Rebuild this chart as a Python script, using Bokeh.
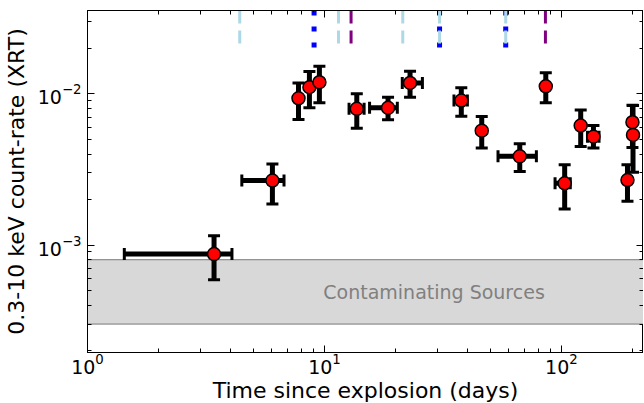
import math
from bokeh.plotting import figure
from bokeh.models import FixedTicker, LogAxis, BoxAnnotation, Span, Label, ColumnDataSource
from bokeh.embed import file_html
from bokeh.resources import INLINE

# ---------------- data ----------------
t = [3.42, 6.03, 7.77, 8.64, 9.52, 13.69, 18.55, 22.97, 37.8, 46.1, 66.7, 85.9,
     103.2, 120.6, 136.5, 190.0, 199.4, 200.5]
t_lo = [1.43, 4.48, 7.77, 8.64, 9.52, 12.7, 15.5, 21.3, 35.2, 46.1, 54.0, 85.9,
        94.0, 120.6, 128.8, 190.0, 199.4, 200.5]
t_hi = [4.07, 6.75, 7.77, 8.64, 9.52, 14.7, 20.3, 25.9, 40.1, 46.1, 78.4, 85.9,
        109.0, 120.6, 144.1, 190.0, 199.4, 200.5]
rate = [8.71e-4, 2.67e-3, 9.35e-3, 1.106e-2, 1.194e-2, 7.96e-3, 8.08e-3, 1.18e-2,
        9.03e-3, 5.71e-3, 3.86e-3, 1.122e-2, 2.56e-3, 6.17e-3, 5.21e-3, 2.69e-3,
        6.49e-3, 5.35e-3]
rate_lo = [5.89e-4, 1.87e-3, 6.76e-3, 8.08e-3, 8.72e-3, 5.92e-3, 6.73e-3, 9.5e-3,
           7.11e-3, 4.39e-3, 3.06e-3, 8.72e-3, 1.73e-3, 4.48e-3, 4.39e-3, 1.95e-3,
           4.41e-3, 3.03e-3]
rate_hi = [1.153e-3, 3.44e-3, 1.18e-2, 1.406e-2, 1.52e-2, 1.0e-2, 9.5e-3, 1.41e-2,
           1.096e-2, 7.08e-3, 4.67e-3, 1.377e-2, 3.39e-3, 7.83e-3, 6.17e-3, 3.39e-3,
           8.4e-3, 8.37e-3]

blue_times = [9.04, 30.6, 58.2]
lightblue_times = [4.39, 11.46, 21.4, 30.6, 58.2]
purple_times = [12.95, 85.6]

band_lo = 3.0e-4
band_hi = 8.0e-4
band_label = "Contaminating Sources"
band_label_x = 29.0
band_label_y = 4.9e-4

x_start, x_end = 1.0, 222.0
y_start, y_end = 1.945e-4, 3.56e-2

x_major = [1, 10, 100]
x_minor = [2, 3, 4, 5, 6, 7, 8, 9, 20, 30, 40, 50, 60, 70, 80, 90, 200]
y_major = [1e-3, 1e-2]
y_minor = [2e-4, 3e-4, 4e-4, 5e-4, 6e-4, 7e-4, 8e-4, 9e-4,
           2e-3, 3e-3, 4e-3, 5e-3, 6e-3, 7e-3, 8e-3, 9e-3, 2e-2, 3e-2]

x_title = "Time since explosion (days)"
y_title = "0.3-10 keV count-rate (XRT)"

FONT = "DejaVu Sans"

# ---------------- figure ----------------
p = figure(x_axis_type="log", y_axis_type="log",
           x_range=(x_start, x_end), y_range=(y_start, y_end),
           frame_width=556, frame_height=342,
           min_border_left=86, min_border_top=10, min_border_right=0,
           min_border_bottom=0,
           output_backend="svg", toolbar_location=None)
p.xgrid.visible = False
p.ygrid.visible = False
p.outline_line_color = "black"
p.outline_line_width = 1
p.background_fill_color = "white"
p.border_fill_color = "white"

xt = FixedTicker(ticks=x_major, minor_ticks=x_minor)
yt = FixedTicker(ticks=y_major, minor_ticks=y_minor)

def style_axis(ax):
    ax.axis_line_color = "black"
    ax.axis_line_width = 1
    ax.major_tick_in = 7
    ax.major_tick_out = 0
    ax.minor_tick_in = 4
    ax.minor_tick_out = 0
    ax.major_tick_line_color = "black"
    ax.minor_tick_line_color = "black"
    ax.major_tick_line_width = 1
    ax.minor_tick_line_width = 1
    ax.major_label_text_font = FONT
    ax.major_label_text_font_size = "19px"
    ax.major_label_text_color = "black"
    ax.axis_label_text_font = FONT
    ax.axis_label_text_font_size = "22px"
    ax.axis_label_text_font_style = "normal"
    ax.axis_label_text_color = "black"

p.xaxis.ticker = xt
p.yaxis.ticker = yt
for ax in p.xaxis + p.yaxis:
    style_axis(ax)
p.xaxis.axis_label = x_title
p.yaxis.axis_label = y_title
p.xaxis.major_label_standoff = 0
p.yaxis.major_label_standoff = 6
p.xaxis.axis_label_standoff = 1
p.yaxis.axis_label_standoff = 6

top_ax = LogAxis(ticker=xt)
right_ax = LogAxis(ticker=yt)
for ax in (top_ax, right_ax):
    style_axis(ax)
    ax.major_label_text_font_size = "1px"
    ax.major_label_text_alpha = 0.0
    ax.major_label_standoff = 0
p.add_layout(top_ax, "above")
p.add_layout(right_ax, "right")

# contaminating band
band = BoxAnnotation(bottom=band_lo, top=band_hi, fill_color="#d8d8d8",
                     fill_alpha=1.0, line_alpha=0.0, level="underlay")
p.add_layout(band)
for edge in (band_lo, band_hi):
    p.add_layout(Span(location=edge, dimension="width", line_color="#333333",
                      line_width=1.2, line_dash="1 1", level="underlay"))
p.add_layout(Label(x=band_label_x, y=band_label_y, text=band_label,
                   text_align="center", text_baseline="middle",
                   text_font=FONT, text_font_size="19px", text_color="#808080"))

# event marks at top of axes (axes fraction 0.9 -> 1.0)
ly0, ly1 = math.log10(y_start), math.log10(y_end)
def frac_y(f):
    return 10 ** (ly0 + f * (ly1 - ly0))

p.segment(x0=blue_times, y0=[y_end] * len(blue_times), x1=blue_times,
          y1=[frac_y(0.89)] * len(blue_times), line_color="blue", line_width=5,
          line_dash="5 11")
p.segment(x0=lightblue_times, y0=[y_end] * len(lightblue_times), x1=lightblue_times,
          y1=[frac_y(0.9)] * len(lightblue_times), line_color="#add8e6",
          line_width=3, line_dash="13 7")
p.segment(x0=purple_times, y0=[y_end] * len(purple_times), x1=purple_times,
          y1=[frac_y(0.9)] * len(purple_times), line_color="purple",
          line_width=3, line_dash="13 7")

# error bars
src = ColumnDataSource(dict(t=t, t_lo=t_lo, t_hi=t_hi, rate=rate,
                            rate_lo=rate_lo, rate_hi=rate_hi))
p.segment(x0="t_lo", y0="rate", x1="t_hi", y1="rate", source=src,
          line_color="black", line_width=5)
p.segment(x0="t", y0="rate_lo", x1="t", y1="rate_hi", source=src,
          line_color="black", line_width=5)
p.scatter(x="t", y="rate_lo", source=src, marker="dash", size=12,
          line_color="black", line_width=3)
p.scatter(x="t", y="rate_hi", source=src, marker="dash", size=12,
          line_color="black", line_width=3)
p.scatter(x="t_lo", y="rate", source=src, marker="dash", size=12, angle=math.pi / 2,
          line_color="black", line_width=3)
p.scatter(x="t_hi", y="rate", source=src, marker="dash", size=12, angle=math.pi / 2,
          line_color="black", line_width=3)
p.scatter(x="t", y="rate", source=src, marker="circle", size=13,
          fill_color="red", line_color="black", line_width=1.5)

open("out.html", "w").write(file_html(p, INLINE))
